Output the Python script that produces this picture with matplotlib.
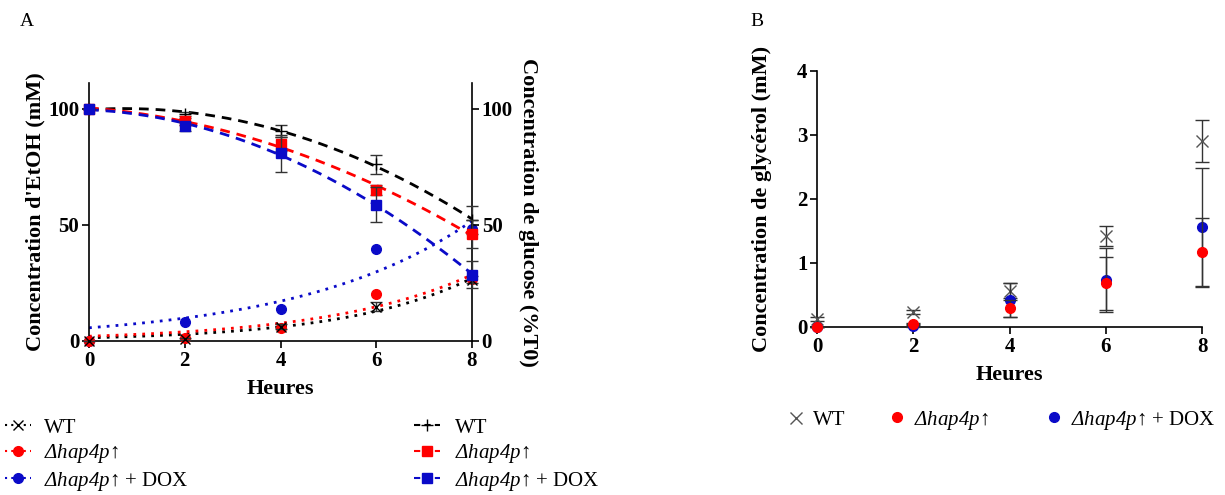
import numpy as np
import matplotlib
matplotlib.use("Agg")
import matplotlib.pyplot as plt
from matplotlib.lines import Line2D

plt.rcParams['font.family'] = ['Liberation Serif', 'DejaVu Serif']
plt.rcParams['mathtext.fontset'] = 'custom'
plt.rcParams['mathtext.it'] = 'Liberation Serif:italic'
plt.rcParams['mathtext.rm'] = 'Liberation Serif:italic'
plt.rcParams['mathtext.bf'] = 'Liberation Serif:bold'

# ---------------- data ----------------
hours = [0, 2, 4, 6, 8]

# Panel A: glucose (%T0)
glc_wt = [100, 97.6, 90.4, 76.0, 52.0]
glc_wt_err = [0, 1.0, 2.5, 4.0, 5.9]
glc_hap = [100, 94.6, 84.7, 65.0, 46.1]
glc_hap_err = [0, 1.5, 3.0, 2.0, 6.0]
glc_dox = [100, 92.4, 80.7, 58.6, 28.6]
glc_dox_err = [0, 2.0, 8.0, 7.5, 5.8]

# Panel A: ethanol (mM)
etoh_wt = [0, 1.0, 6.1, 14.7, 26.4]
etoh_wt_err = [0, 0.5, 1.0, 2.0, 1.5]
etoh_hap = [0, 1.1, 5.6, 20.3, 26.7]
etoh_dox = [0, 8.1, 13.9, 39.6, 48.0]

# Panel B: glycerol (mM)
gly_wt = [0.13, 0.23, 0.57, 1.42, 2.91]
gly_wt_err = [0.03, 0.03, 0.12, 0.16, 0.33]
gly_hap = [0.0, 0.05, 0.29, 0.68, 1.17]
gly_hap_err = [0.0, 0.02, 0.13, 0.42, 0.53]
gly_dox = [0.0, 0.02, 0.42, 0.74, 1.56]
gly_dox_err = [0.0, 0.02, 0.27, 0.50, 0.93]

label_wt = "WT"
label_hap = r"$\mathrm{Δhap4p}$↑"
label_dox = r"$\mathrm{Δhap4p}$↑ + DOX"

RED = "#ff0000"
BLUE = "#0a0ac8"
BLACK = "#000000"
ERRC = "#333333"

TICK_FS = 15
LAB_FS = 16
LEG_FS = 15


def fit_exp(t, y):
    """least squares fit of y = a*exp(b*t)"""
    t = np.asarray(t, float); y = np.asarray(y, float)
    best = None
    for b in np.linspace(0.01, 1.0, 2000):
        e = np.exp(b * t)
        a = np.sum(y * e) / np.sum(e * e)
        r = np.sum((y - a * e) ** 2)
        if best is None or r < best[0]:
            best = (r, a, b)
    return best[1], best[2]


tt = np.linspace(0, 8, 200)

fig = plt.figure(figsize=(12.25, 4.95), dpi=100)

# ---------------- Panel A ----------------
axA = fig.add_axes([89 / 1225, 1 - 341 / 495, 383 / 1225, (341 - 83) / 495])
axA2 = axA.twinx()

# glucose fits (quadratic)
for y, c in [(glc_wt, BLACK), (glc_hap, RED), (glc_dox, BLUE)]:
    p = np.polyfit(hours, y, 2)
    axA2.plot(tt, np.polyval(p, tt), ls=(0, (3.5, 2.5)), color=c, lw=2, zorder=2)

# ethanol fits (exponential)
for y, c in [(etoh_wt, BLACK), (etoh_hap, RED), (etoh_dox, BLUE)]:
    a, b = fit_exp(hours, y)
    axA.plot(tt, a * np.exp(b * tt), ls=(0, (1, 2.2)), color=c, lw=2, zorder=2)

# ethanol points
axA.errorbar(hours, etoh_dox, fmt='o', color=BLUE, ms=7, clip_on=False, zorder=3)
axA.errorbar(hours, etoh_hap, fmt='o', color=RED, ms=7, clip_on=False, zorder=4)
axA.errorbar(hours, etoh_wt, yerr=etoh_wt_err, fmt='x', color=BLACK, ms=7, mew=1,
             ecolor=ERRC, elinewidth=1, capsize=4, clip_on=False, zorder=5)

# glucose points
axA2.errorbar(hours, glc_wt, yerr=glc_wt_err, fmt='+', color=BLACK, ms=8, mew=1,
              ecolor=ERRC, elinewidth=1, capsize=4, clip_on=False, zorder=5)
axA2.errorbar(hours, glc_hap, yerr=glc_hap_err, fmt='s', color=RED, ms=7,
              ecolor=ERRC, elinewidth=1, capsize=4, clip_on=False, zorder=6)
axA2.errorbar(hours, glc_dox, yerr=glc_dox_err, fmt='s', color=BLUE, ms=7,
              ecolor=ERRC, elinewidth=1, capsize=4, clip_on=False, zorder=7)

for ax in (axA, axA2):
    ax.set_xlim(0, 8)
    ax.set_ylim(0, 111)
    ax.set_yticks([0, 50, 100])
    ax.spines['top'].set_visible(False)
    for s in ax.spines.values():
        s.set_linewidth(1.2)
    ax.tick_params(width=1.2, length=5, labelsize=TICK_FS, direction='out', pad=2)
axA.spines['right'].set_visible(False)
axA2.spines['left'].set_visible(False)
axA2.spines['bottom'].set_visible(False)
axA.set_xticks(hours)
for lab in axA.get_xticklabels() + axA.get_yticklabels() + axA2.get_yticklabels():
    lab.set_fontweight('bold')
axA.set_xlabel("Heures", fontsize=LAB_FS, fontweight='bold', labelpad=6)
axA.set_ylabel("Concentration d'EtOH (mM)", fontsize=LAB_FS, fontweight='bold', labelpad=2)
axA2.set_ylabel("Concentration de glucose (%T0)", fontsize=LAB_FS, fontweight='bold',
                rotation=270, labelpad=18)
axA2.set_zorder(axA.get_zorder() + 1)
axA2.patch.set_visible(False)

fig.text(20 / 1225, 1 - 22 / 495, "A", fontsize=14, va='center', ha='left')

# Panel A legends
h_left = [Line2D([], [], ls=(0, (1, 2)), color=BLACK, marker='x', ms=7, lw=1.5),
          Line2D([], [], ls=(0, (1, 2)), color=RED, marker='o', ms=7, lw=1.5),
          Line2D([], [], ls=(0, (1, 2)), color=BLUE, marker='o', ms=7, lw=1.5)]
h_right = [Line2D([], [], ls=(0, (3, 2)), color=BLACK, marker='+', ms=8, lw=1.5),
           Line2D([], [], ls=(0, (3, 2)), color=RED, marker='s', ms=7, lw=1.5),
           Line2D([], [], ls=(0, (3, 2)), color=BLUE, marker='s', ms=7, lw=1.5)]
labs = [label_wt, label_hap, label_dox]
fig.legend(h_left, labs, loc='upper left', bbox_to_anchor=(5 / 1225, 1 - 418 / 495),
           frameon=False, fontsize=LEG_FS, handlelength=1.25, handletextpad=0.6,
           labelspacing=0.22, borderaxespad=0, borderpad=0)
fig.legend(h_right, labs, loc='upper left', bbox_to_anchor=(414 / 1225, 1 - 418 / 495),
           frameon=False, fontsize=LEG_FS, handlelength=1.25, handletextpad=0.7,
           labelspacing=0.22, borderaxespad=0, borderpad=0)

# ---------------- Panel B ----------------
axB = fig.add_axes([817 / 1225, 1 - 327 / 495, 385 / 1225, (327 - 71) / 495])
axB.errorbar(hours, gly_wt, yerr=gly_wt_err, fmt='x', color="#555555", ms=9, mew=1,
             ecolor=ERRC, elinewidth=1, capsize=5, clip_on=False, zorder=3)
axB.errorbar(hours, gly_dox, yerr=gly_dox_err, fmt='o', color=BLUE, ms=7,
             ecolor=ERRC, elinewidth=1, capsize=5, clip_on=False, zorder=4)
axB.errorbar(hours, gly_hap, yerr=gly_hap_err, fmt='o', color=RED, ms=7,
             ecolor=ERRC, elinewidth=1, capsize=5, clip_on=False, zorder=5)
axB.set_xlim(0, 8)
axB.set_ylim(0, 4)
axB.set_xticks(hours)
axB.set_yticks([0, 1, 2, 3, 4])
axB.spines['top'].set_visible(False)
axB.spines['right'].set_visible(False)
for s in axB.spines.values():
    s.set_linewidth(1.2)
axB.tick_params(width=1.2, length=5, labelsize=TICK_FS, direction='out', pad=2)
for lab in axB.get_xticklabels() + axB.get_yticklabels():
    lab.set_fontweight('bold')
axB.set_xlabel("Heures", fontsize=LAB_FS, fontweight='bold', labelpad=6)
axB.set_ylabel("Concentration de glycérol (mM)", fontsize=LAB_FS, fontweight='bold', labelpad=18)
fig.text(750 / 1225, 1 - 22 / 495, "B", fontsize=14, va='center', ha='left')

# Panel B legend: one entry per legend, placed like the reference
h_b = [Line2D([], [], ls='none', color="#555555", marker='x', ms=9, mew=1),
       Line2D([], [], ls='none', color=RED, marker='o', ms=7),
       Line2D([], [], ls='none', color=BLUE, marker='o', ms=7)]
leg_b_x = [786, 887, 1044]
for h, lab, x0 in zip(h_b, labs, leg_b_x):
    fig.legend([h], [lab], loc='center left', bbox_to_anchor=(x0 / 1225, 1 - 420 / 495),
               frameon=False, fontsize=LEG_FS, handlelength=1.0, handletextpad=0.3,
               borderaxespad=0, borderpad=0)

fig.savefig("out.png", dpi=100)
